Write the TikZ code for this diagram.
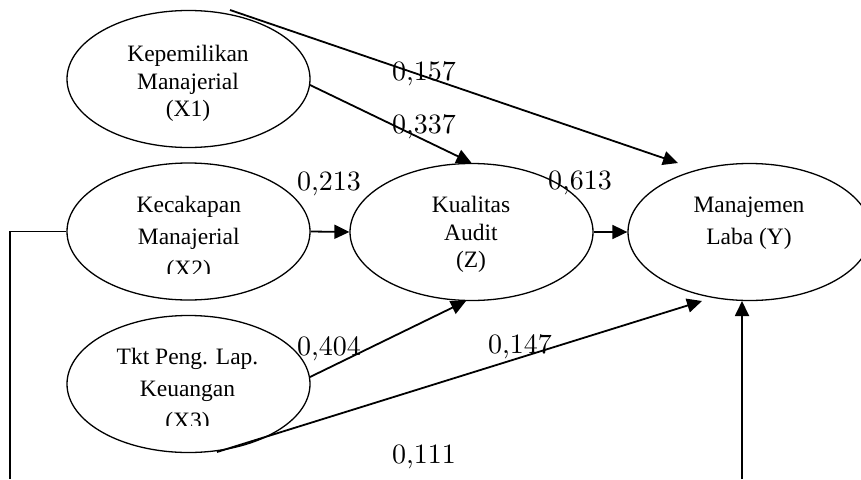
\documentclass[tikz,border=0pt]{standalone}
\usepackage{fontspec}
\newfontfamily\tnr{Liberation Serif}
\font\numf="[lmroman10-regular.otf]" at 28pt
\usetikzlibrary{arrows.meta,shapes.geometric}
\tikzset{
  var/.style={draw, ellipse, line width=1.3pt, minimum width=243pt, minimum height=137pt, inner sep=0pt},
  vtext/.style={align=center, inner sep=0pt, font=\tnr\fontsize{23.5}{27.5}\selectfont},
  vtextw/.style={align=center, inner sep=0pt, font=\tnr\fontsize{23.5}{32}\selectfont},
  coef/.style={anchor=base west, inner sep=0pt, font=\numf},
  arr/.style={line width=1.8pt, -{Triangle[length=15pt,width=14pt]}},
  ln/.style={line width=1.8pt}
}
\begin{document}
\begin{tikzpicture}[x=1pt,y=1pt]
\useasboundingbox (0,0) rectangle (861,-479);
% ellipses
\node[var] (X1) at (188.5,-79) {};
\node[var] (X2) at (188.5,-231.5) {};
\node[var] (X3) at (188.5,-384) {};
\node[var] (Z) at (471.5,-232) {};
\node[var] (Y) at (749.5,-232) {};
% texts
\node[vtext] (tX1) at (188,-83.7) {Kepemilikan\\Manajerial\\(X1)};
\begin{scope}
\clip (0,-273) rectangle (861,0);
\node[vtextw] (tX2) at (188.8,-239) {Kecakapan\\Manajerial\\(X2)};
\end{scope}
\begin{scope}
\clip (0,-425) rectangle (861,-300);
\node[vtextw] (tX3) at (187.5,-391) {Tkt Peng. Lap.\\Keuangan\\(X3)};
\end{scope}
\node[vtext] (tZ) at (471,-234.7) {Kualitas\\Audit\\(Z)};
\node[vtextw] (tY) at (749,-223.2) {Manajemen\\Laba (Y)};
% free ends
\coordinate (s1) at (230,-10);
\coordinate (e1) at (678,-163);
\coordinate (s2) at (310,-85);
\coordinate (s5) at (310,-377);
\coordinate (e5) at (466,-301);
\coordinate (s6) at (217,-452);
\coordinate (e6) at (702,-301);
\coordinate (b1) at (10,-231.5);
\coordinate (b2) at (10,-479);
\coordinate (b3) at (742,-479);
\coordinate (e7) at (742,-301);
% connectors
\draw[arr] (s1) -- (e1);
\draw[arr] (s2) -- (Z.north);
\draw[arr] (X2.east) -- (Z.west);
\draw[arr] (Z.east) -- (Y.west);
\draw[arr] (s5) -- (e5);
\draw[arr] (s6) -- (e6);
\draw[ln] (X2.west) -- (b1) -- (b2);
\draw[arr] (b3) -- (e7);
% coefficients
\node[coef] (c157) at (392,-80) {0,157};
\node[coef] (c337) at (392,-133) {0,337};
\node[coef] (c213) at (297,-190) {0,213};
\node[coef] (c613) at (548,-189) {0,613};
\node[coef] (c404) at (297,-355) {0,404};
\node[coef] (c147) at (488,-353) {0,147};
\node[coef] (c111) at (392,-463) {0,111};
\end{tikzpicture}
\end{document}
